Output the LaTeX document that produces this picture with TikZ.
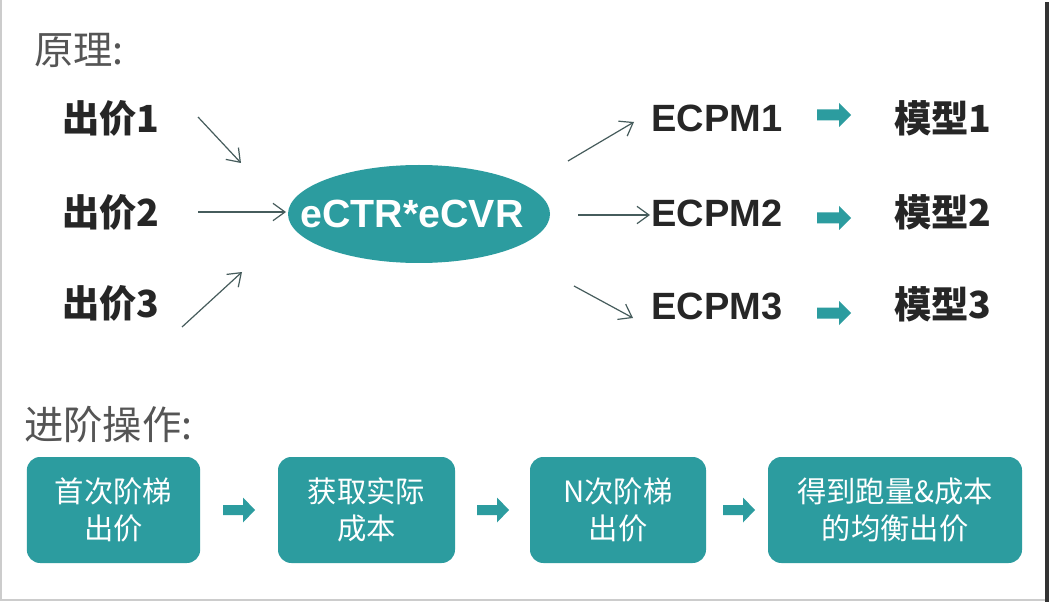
\documentclass[tikz,border=0pt]{standalone}
\usepackage{fontspec}
\setmainfont{Liberation Sans}
\newfontfamily\cjk{Noto Sans CJK SC}
\usetikzlibrary{arrows.meta}
\definecolor{teal1}{RGB}{44,156,159}
\definecolor{linec}{RGB}{70,92,92}
\definecolor{headc}{RGB}{85,85,85}
\definecolor{darkt}{RGB}{38,38,38}
\tikzset{
  heading/.style={font=\cjk\fontsize{29.5}{32}\selectfont, text=headc, inner sep=0pt},
  bid/.style={font=\cjk\bfseries\fontsize{28}{30}\selectfont, text=darkt, inner sep=0pt},
  ecpm/.style={font=\bfseries\fontsize{28.5}{30}\selectfont, text=darkt, inner sep=0pt},
  thin/.style={draw=linec, line width=0.9pt, -{Straight Barb[length=9pt,width=13pt,line width=0.9pt]}},
  stepbox/.style={fill=teal1, rounded corners=10pt, text=white, align=center,
    font=\cjk\fontsize{22}{28}\selectfont, inner sep=0pt},
}
\newcommand{\bigarr}[2]{%
  \fill[teal1] (#1-17,#2-5.5) -- (#1+5,#2-5.5) -- (#1+5,#2-12) -- (#1+17,#2) -- (#1+5,#2+12) -- (#1+5,#2+5.5) -- (#1-17,#2+5.5) -- cycle;}
\newcommand{\smallarr}[2]{%
  \fill[teal1] (#1-16,#2-5) -- (#1+4,#2-5) -- (#1+4,#2-12.5) -- (#1+16,#2) -- (#1+4,#2+12.5) -- (#1+4,#2+5) -- (#1-16,#2+5) -- cycle;}
\begin{document}
\begin{tikzpicture}[x=0.75pt,y=-0.75pt]
\useasboundingbox (0,0) rectangle (1049,602);
\fill[white] (0,0) rectangle (1049,602);
\draw[gray!40, line width=1.5pt] (1,0) -- (1,600) -- (1045,600);
\fill[black!80] (1045,2) rectangle (1049,602);

% headings
\node[heading, anchor=west] (h1) at (34,50) {原理:};
\node[heading, anchor=west] (h2) at (24,425) {进阶操作:};

% bids
\node[bid, anchor=west] (b1) at (62,118) {出价1};
\node[bid, anchor=west] (b2) at (62,212) {出价2};
\node[bid, anchor=west] (b3) at (62,303) {出价3};

% ellipse
\fill[teal1] (419,214) ellipse [x radius=131, y radius=49];
\node[font=\bfseries\fontsize{29.5}{30}\selectfont, text=white, inner sep=0pt] (e) at (412,214) {eCTR*eCVR};

% ecpm
\node[ecpm, anchor=west] (c1) at (651,118) {ECPM1};
\node[ecpm, anchor=west] (c2) at (651,213) {ECPM2};
\node[ecpm, anchor=west] (c3) at (651,306) {ECPM3};

% models
\node[bid, anchor=west] (m1) at (894,118) {模型1};
\node[bid, anchor=west] (m2) at (894,212) {模型2};
\node[bid, anchor=west] (m3) at (894,304) {模型3};

% thin arrows
\coordinate (i1s) at (198,117); \coordinate (i1e) at (241,163);
\coordinate (i2s) at (198,212); \coordinate (i2e) at (286,212);
\coordinate (i3s) at (182,327); \coordinate (i3e) at (242,272);
\coordinate (o1s) at (568,161); \coordinate (o1e) at (634,122);
\coordinate (o2s) at (578,215); \coordinate (o2e) at (650,215);
\coordinate (o3s) at (574,286); \coordinate (o3e) at (633,318);
\draw[thin] (i1s) -- (i1e);
\draw[thin] (i2s) -- (i2e);
\draw[thin] (i3s) -- (i3e);
\draw[thin] (o1s) -- (o1e);
\draw[thin] (o2s) -- (o2e);
\draw[thin] (o3s) -- (o3e);

% block arrows
\bigarr{834}{115}
\bigarr{834}{218}
\bigarr{834}{313}

% step boxes
\node[stepbox, minimum width=130pt, minimum height=79.5pt] (s1) at (113.5,510) {首次阶梯\\出价};
\node[stepbox, minimum width=132.75pt, minimum height=79.5pt] (s2) at (366.5,510) {获取实际\\成本};
\node[stepbox, minimum width=132pt, minimum height=79.5pt] (s3) at (618,510) {N次阶梯\\出价};
\node[stepbox, minimum width=190.5pt, minimum height=79.5pt] (s4) at (895,510) {得到跑量\&成本\\的均衡出价};

\smallarr{239}{510}
\smallarr{493}{510}
\smallarr{739}{510}
\end{tikzpicture}
\end{document}
